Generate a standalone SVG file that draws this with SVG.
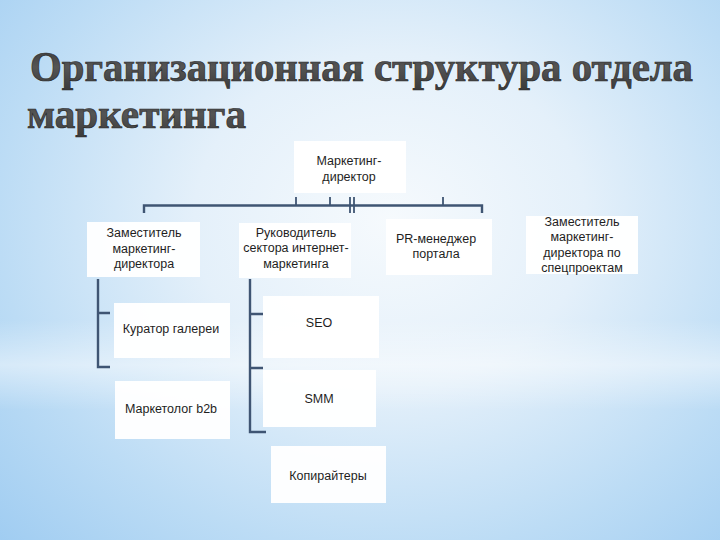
<svg xmlns="http://www.w3.org/2000/svg" width="720" height="540" viewBox="0 0 720 540">
<defs>
<radialGradient id="bg" cx="390" cy="220" r="560" gradientUnits="userSpaceOnUse" gradientTransform="translate(390 220) scale(1 0.85) translate(-390 -220)">
<stop offset="0" stop-color="#f6fafd"/>
<stop offset="0.35" stop-color="#e4f0fa"/>
<stop offset="0.7" stop-color="#bcdcf5"/>
<stop offset="1" stop-color="#9dcbf1"/>
</radialGradient>
<linearGradient id="band" x1="0" y1="0" x2="0" y2="1">
<stop offset="0" stop-color="#ffffff" stop-opacity="0"/>
<stop offset="0.5" stop-color="#ffffff" stop-opacity="0.45"/>
<stop offset="1" stop-color="#ffffff" stop-opacity="0"/>
</linearGradient>
<linearGradient id="tf" x1="0" y1="0" x2="0" y2="1">
<stop offset="0" stop-color="#363636"/>
<stop offset="0.5" stop-color="#555555"/>
<stop offset="1" stop-color="#3a3a3a"/>
</linearGradient>
</defs>
<style>
.title{font-family:"Liberation Serif","Times New Roman",serif;font-weight:bold;font-size:42px;fill:url(#tf);stroke:#2a2a2a;stroke-width:0.7}
.box{fill:#ffffff;fill-opacity:0.96}
.lbl{font-family:"Liberation Sans",Arial,sans-serif;font-size:12.5px;fill:#1e1e1e;text-anchor:middle}
.ln{stroke:#3f5573;stroke-width:2.4;fill:none}
.tk{stroke:#3f5573;stroke-width:1.8;fill:none}
</style>
<rect width="720" height="540" fill="url(#bg)"/>
<rect x="0" y="320" width="720" height="90" fill="url(#band)"/>

<g id="title">
<text class="title" x="30" y="81" textLength="663" lengthAdjust="spacingAndGlyphs">Организационная структура отдела</text>
<text class="title" x="27" y="128" textLength="219" lengthAdjust="spacingAndGlyphs">маркетинга</text>
</g>

<g id="connectors">
<path class="ln" d="M144 213 V205.5 H482 V213"/>
<path class="tk" d="M296 197 V205.5 M330 197 V205.5 M350 197 V213 M354 197 V213 M443 197 V205.5"/>
<path class="ln" d="M98 279 V367 H110 M98 313 H110"/>
<path class="ln" d="M250 279 V432 H266 M250 314 H263 M250 368 H263"/>
</g>

<g id="n-director">
<rect class="box" x="294" y="141" width="112" height="52"/>
<text class="lbl" x="349" y="165">Маркетинг-</text>
<text class="lbl" x="349" y="181">директор</text>
</g>

<g id="n-deputy">
<rect class="box" x="87" y="222" width="113" height="55"/>
<text class="lbl" x="144" y="237">Заместитель</text>
<text class="lbl" x="144" y="253">маркетинг-</text>
<text class="lbl" x="144" y="268">директора</text>
</g>

<g id="n-internet">
<rect class="box" x="239" y="223" width="112" height="55"/>
<text class="lbl" x="296" y="237">Руководитель</text>
<text class="lbl" x="296" y="252">сектора интернет-</text>
<text class="lbl" x="296" y="268">маркетинга</text>
</g>

<g id="n-pr">
<rect class="box" x="386" y="219" width="106" height="56"/>
<text class="lbl" x="436" y="243">PR-менеджер</text>
<text class="lbl" x="436" y="258">портала</text>
</g>

<g id="n-special">
<rect class="box" x="526" y="216" width="112" height="58"/>
<text class="lbl" x="582" y="226">Заместитель</text>
<text class="lbl" x="582" y="241">маркетинг-</text>
<text class="lbl" x="582" y="257">директора по</text>
<text class="lbl" x="582" y="272">спецпроектам</text>
</g>

<g id="n-curator">
<rect class="box" x="114" y="303" width="116" height="55"/>
<text class="lbl" x="171" y="333">Куратор галереи</text>
</g>

<g id="n-b2b">
<rect class="box" x="115" y="381" width="115" height="58"/>
<text class="lbl" x="171" y="413">Маркетолог b2b</text>
</g>

<g id="n-seo">
<rect class="box" x="263" y="296" width="116" height="62"/>
<text class="lbl" x="319" y="327">SEO</text>
</g>

<g id="n-smm">
<rect class="box" x="263" y="370" width="113" height="57"/>
<text class="lbl" x="319" y="403">SMM</text>
</g>

<g id="n-copy">
<rect class="box" x="271" y="446" width="115" height="57"/>
<text class="lbl" x="328" y="480">Копирайтеры</text>
</g>
</svg>
